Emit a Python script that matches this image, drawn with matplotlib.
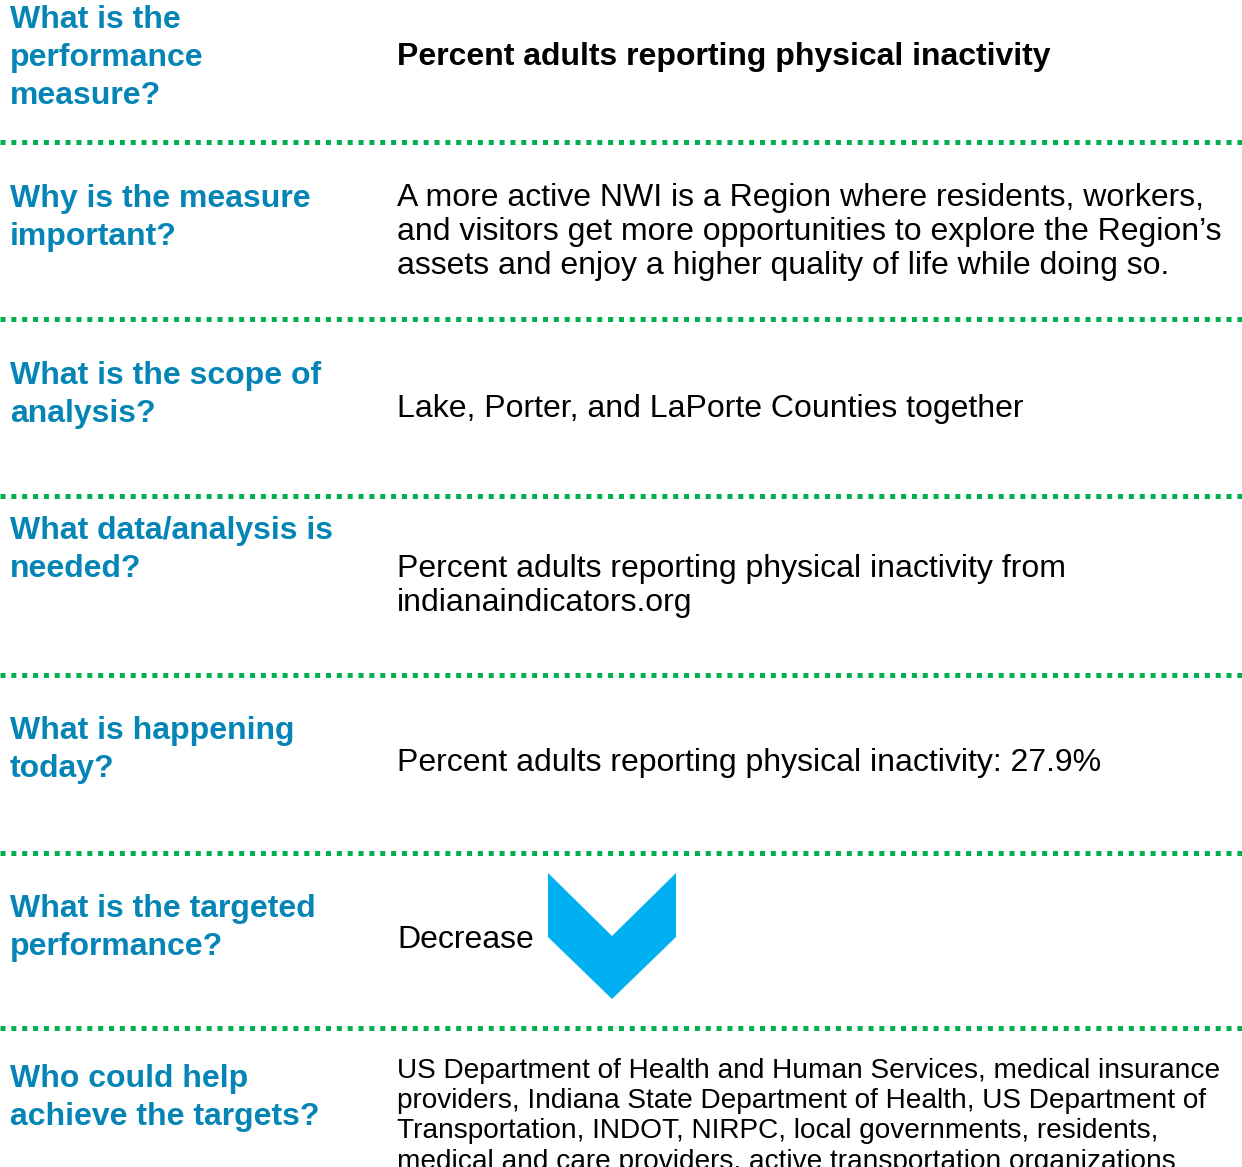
import matplotlib.pyplot as plt
from matplotlib.patches import Polygon

plt.rcParams['font.family'] = ['Liberation Sans', 'DejaVu Sans']

W, H = 1242, 1167

# row content
questions = [
    ["What is the", "performance", "measure?"],
    ["Why is the measure", "important?"],
    ["What is the scope of", "analysis?"],
    ["What data/analysis is", "needed?"],
    ["What is happening", "today?"],
    ["What is the targeted", "performance?"],
    ["Who could help", "achieve the targets?"],
]
answers = [
    ["Percent adults reporting physical inactivity"],
    ["A more active NWI is a Region where residents, workers,",
     "and visitors get more opportunities to explore the Region\u2019s",
     "assets and enjoy a higher quality of life while doing so."],
    ["Lake, Porter, and LaPorte Counties together"],
    ["Percent adults reporting physical inactivity from",
     "indianaindicators.org"],
    ["Percent adults reporting physical inactivity: 27.9%"],
    ["Decrease"],
    ["US Department of Health and Human Services, medical insurance",
     "providers, Indiana State Department of Health, US Department of",
     "Transportation, INDOT, NIRPC, local governments, residents,",
     "medical and care providers, active transportation organizations"],
]

# layout (pixel baselines)
q_base = [28, 207, 384, 539, 739, 917, 1087]
a_base = [64.5, 206, 417.5, 577.5, 770.5, 947.5, 1077.5]
a_step = [34, 34, 34, 34, 34, 34, 30.5]
a_size = [23, 23, 23, 23, 23, 23, 20.2]
divider_y = [142, 319, 496, 675, 853, 1028]

blue = "#0585b5"
green = "#00b050"
arrow_blue = "#00b0f0"

fig = plt.figure(figsize=(W / 100, H / 100), dpi=100)
ax = fig.add_axes([0, 0, 1, 1])
ax.set_xlim(0, W)
ax.set_ylim(H, 0)
ax.axis("off")

for i, lines in enumerate(questions):
    for j, line in enumerate(lines):
        ax.text(10, q_base[i] + 38 * j, line, color=blue, fontsize=23,
                fontweight="bold", va="baseline", ha="left")

for i, lines in enumerate(answers):
    for j, line in enumerate(lines):
        ax.text(397, a_base[i] + a_step[i] * j, line, color="black",
                fontsize=a_size[i], fontweight="bold" if i == 0 else "normal",
                va="baseline", ha="left")

for y in divider_y:
    ax.plot([0, W], [y, y], color=green, lw=3.6, linestyle=(0, (1, 1.17)),
            solid_capstyle="butt", dash_capstyle="butt")

# downward chevron
chevron = [(548, 873), (612, 936), (676, 873), (676, 937), (612, 999), (548, 937)]
ax.add_patch(Polygon(chevron, closed=True, color=arrow_blue, lw=0))

fig.savefig("out.png", dpi=100)
